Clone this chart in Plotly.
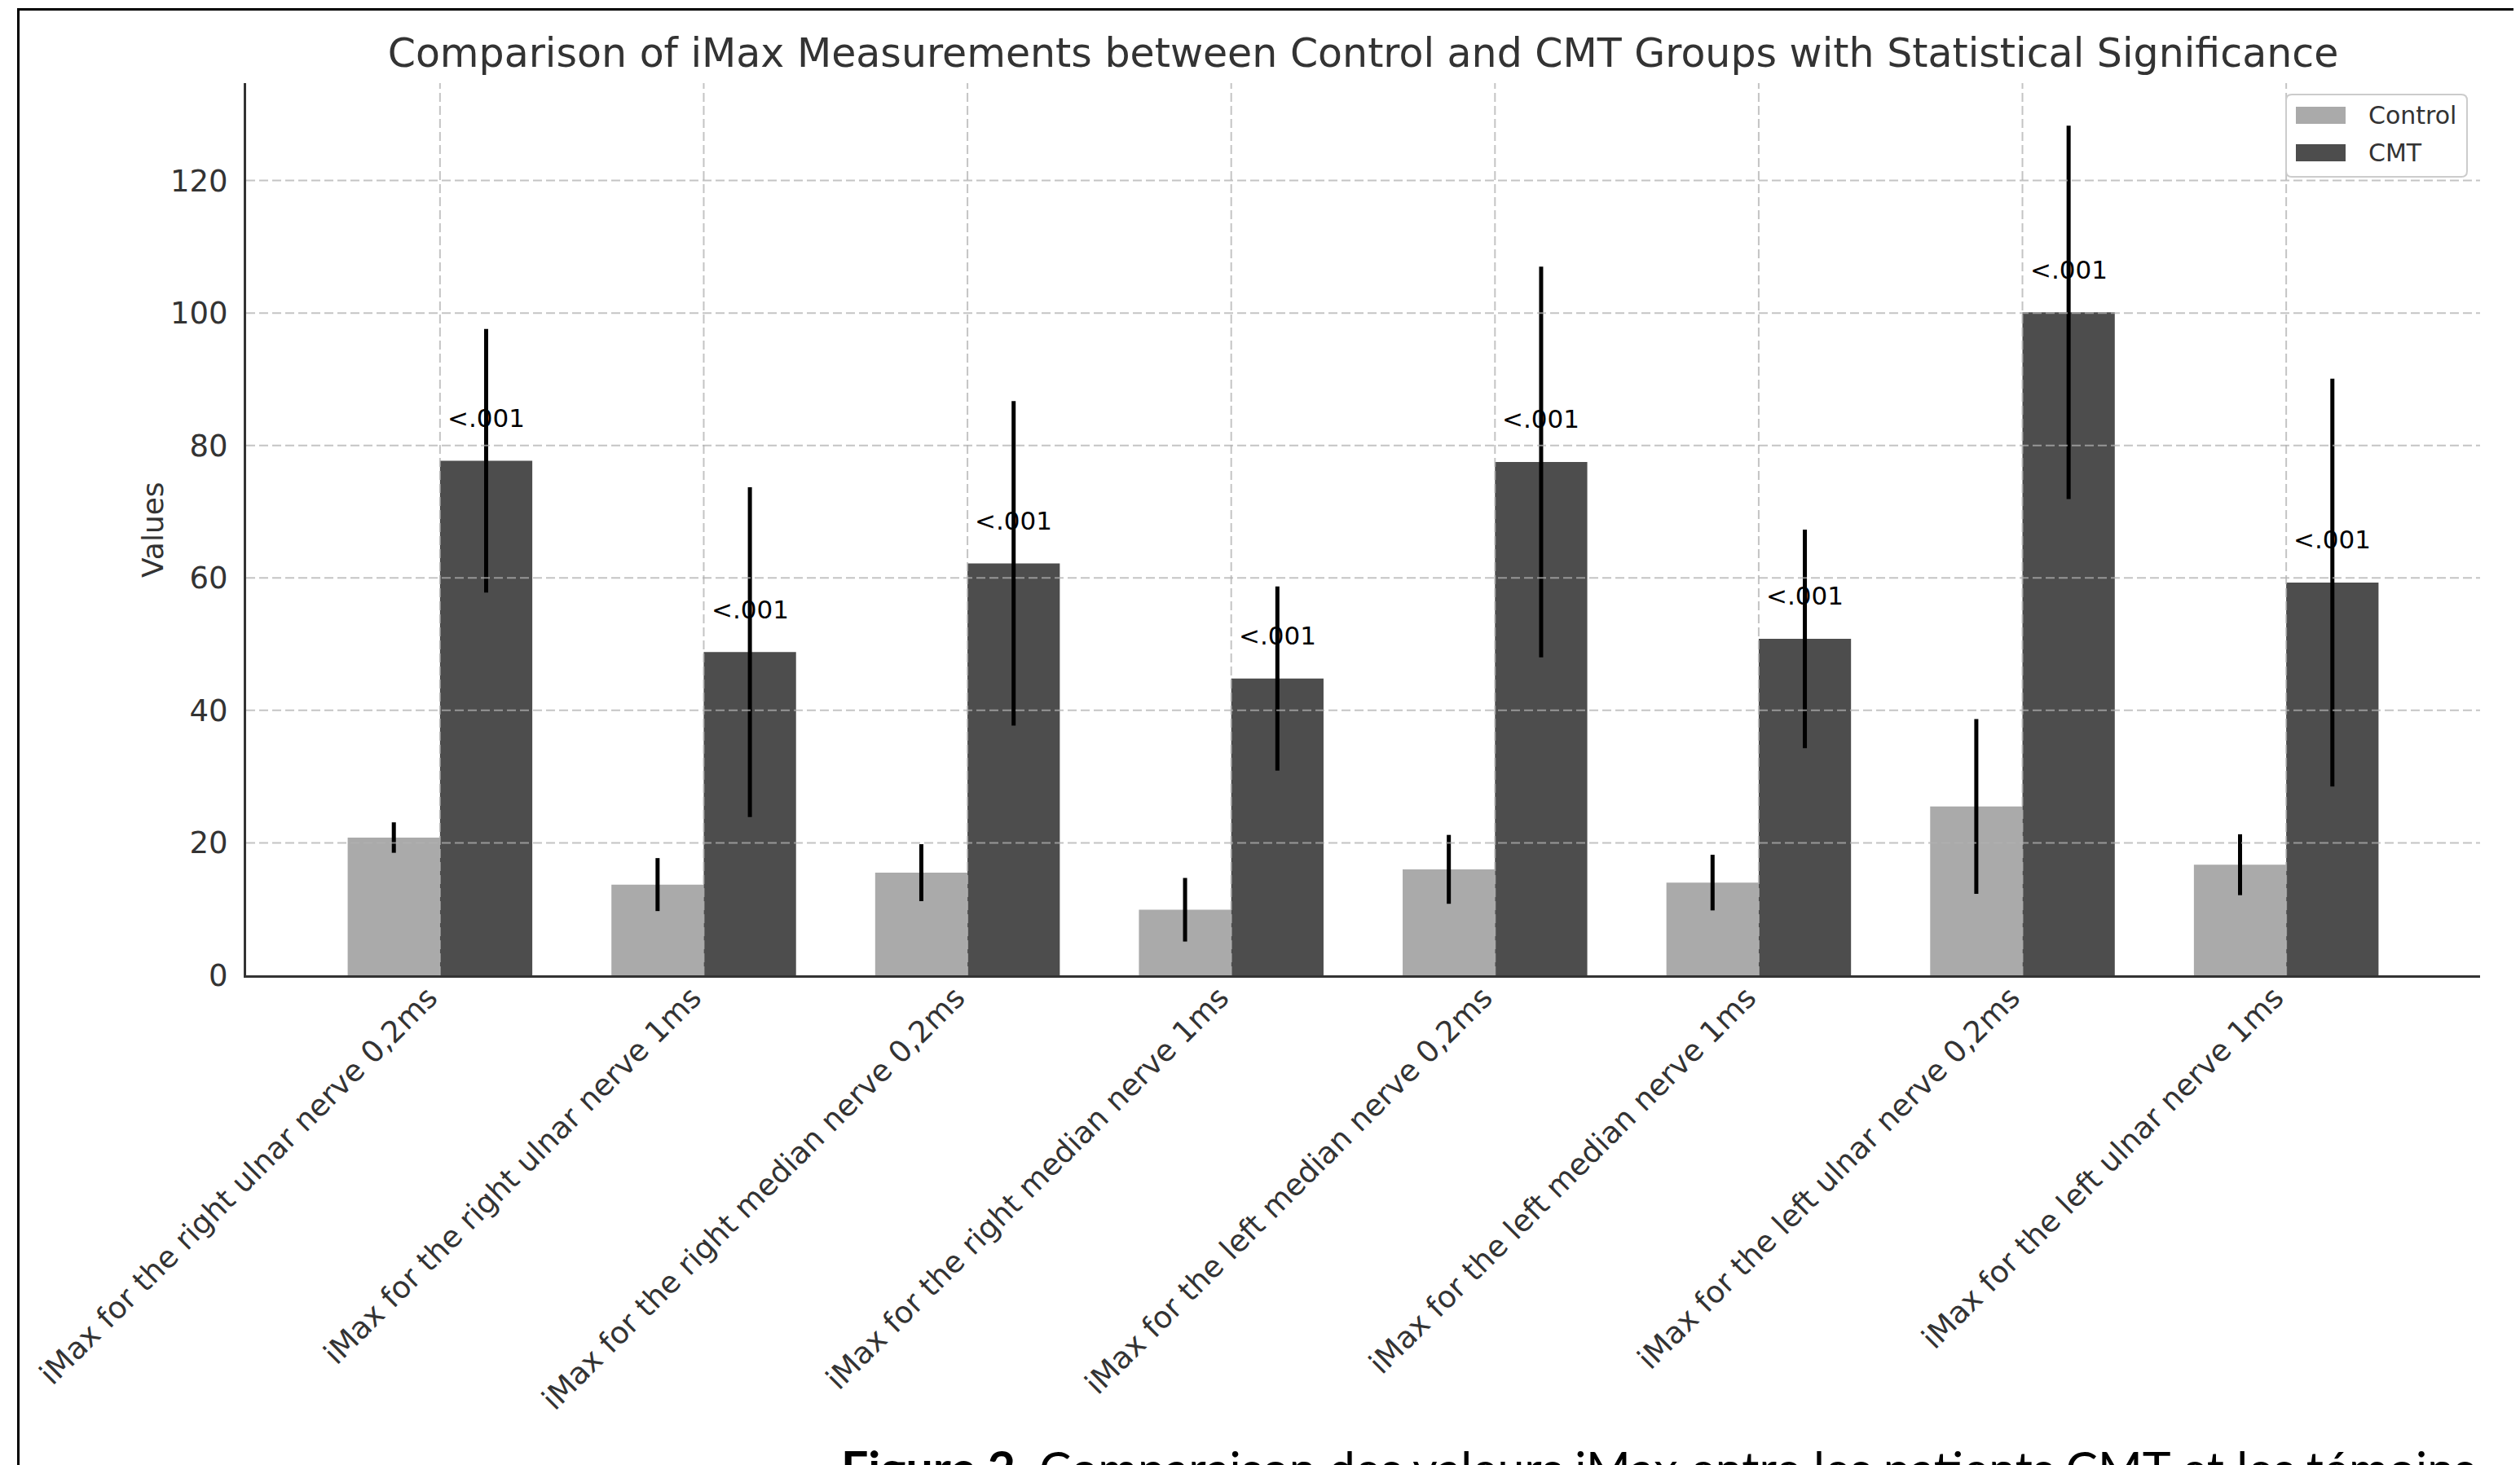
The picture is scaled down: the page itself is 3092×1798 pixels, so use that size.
import plotly.graph_objects as go
import numpy as np

# ---------------- data ----------------
categories = [
    "iMax for the right ulnar nerve 0,2ms",
    "iMax for the right ulnar nerve 1ms",
    "iMax for the right median nerve 0,2ms",
    "iMax for the right median nerve 1ms",
    "iMax for the left median nerve 0,2ms",
    "iMax for the left median nerve 1ms",
    "iMax for the left ulnar nerve 0,2ms",
    "iMax for the left ulnar nerve 1ms",
]
control_mean = [20.8, 13.7, 15.5, 9.9, 16.0, 14.0, 25.5, 16.7]
control_sd = [2.3, 4.0, 4.3, 4.8, 5.2, 4.2, 13.2, 4.6]
cmt_mean = [77.7, 48.8, 62.2, 44.8, 77.5, 50.8, 100.1, 59.3]
cmt_sd = [19.9, 24.9, 24.5, 13.9, 29.5, 16.5, 28.2, 30.8]
p_labels = ["<.001"] * 8
ytick_vals = [0, 20, 40, 60, 80, 100, 120]
series_names = ["Control", "CMT"]

# ---------------- styling ----------------
OFF = 8  # default body margin of the html page
W_FIG, H_FIG = 3092 - OFF, 1798 - OFF
L, R, T, B = 294, 49, 94, 601
PW = W_FIG - L - R
PH = H_FIG - T - B
C_CTRL = "#aaaaaa"
C_CMT = "#4d4d4d"
TXT = "#333333"
FONT = "DejaVu Sans"
GRID = "rgba(176,176,176,0.75)"
BAR_W = 0.35


def px_x(px):  # page pixel -> paper x
    return (px - OFF - L) / PW


def px_y(py):  # page pixel -> paper y
    return (H_FIG - B - (py - OFF)) / PH


x = np.arange(len(categories))
ymax = max(np.array(cmt_mean) + np.array(cmt_sd)) * 1.05
span = (len(categories) - 1) + 2 * BAR_W
xr = [-BAR_W - 0.05 * span, len(categories) - 1 + BAR_W + 0.05 * span]

fig = go.Figure()
fig.add_trace(go.Bar(
    x=x, y=control_mean, name=series_names[0], marker=dict(color=C_CTRL, line=dict(width=0)),
    error_y=dict(type="data", array=control_sd, color="black", thickness=5, width=0),
))
fig.add_trace(go.Bar(
    x=x, y=cmt_mean, name=series_names[1], marker=dict(color=C_CMT, line=dict(width=0)),
    error_y=dict(type="data", array=cmt_sd, color="black", thickness=5, width=0),
))

shapes = []
# gridlines drawn above bars (matplotlib default)
for yv in ytick_vals[1:]:
    shapes.append(dict(type="line", xref="paper", yref="y", x0=0, x1=1, y0=yv, y1=yv,
                       line=dict(color=GRID, width=2, dash="11px,5px"), layer="above"))
for xv in x:
    shapes.append(dict(type="line", xref="x", yref="paper", x0=xv, x1=xv, y0=0, y1=1,
                       line=dict(color=GRID, width=2, dash="11px,5px"), layer="above"))

# outer border of the figure screenshot
shapes.append(dict(type="rect", xref="paper", yref="paper",
                   x0=px_x(22.5), x1=px_x(3110), y0=px_y(11.5), y1=px_y(1830),
                   line=dict(color="black", width=3), fillcolor="rgba(0,0,0,0)", layer="above"))

# custom legend
lx0, lx1, ly0, ly1, rr = 2805, 3027, 116, 217, 7
path = (f"M {px_x(lx0+rr)},{px_y(ly0)} L {px_x(lx1-rr)},{px_y(ly0)} "
        f"Q {px_x(lx1)},{px_y(ly0)} {px_x(lx1)},{px_y(ly0+rr)} "
        f"L {px_x(lx1)},{px_y(ly1-rr)} Q {px_x(lx1)},{px_y(ly1)} {px_x(lx1-rr)},{px_y(ly1)} "
        f"L {px_x(lx0+rr)},{px_y(ly1)} Q {px_x(lx0)},{px_y(ly1)} {px_x(lx0)},{px_y(ly1-rr)} "
        f"L {px_x(lx0)},{px_y(ly0+rr)} Q {px_x(lx0)},{px_y(ly0)} {px_x(lx0+rr)},{px_y(ly0)} Z")
shapes.append(dict(type="path", xref="paper", yref="paper", path=path,
                   line=dict(color="#cccccc", width=2), fillcolor="rgba(255,255,255,0.85)", layer="above"))
for (sy0, sy1, col) in [(131, 152, C_CTRL), (177, 198, C_CMT)]:
    shapes.append(dict(type="rect", xref="paper", yref="paper",
                       x0=px_x(2817), x1=px_x(2878), y0=px_y(sy1), y1=px_y(sy0),
                       line=dict(width=0), fillcolor=col, layer="above"))

annotations = []
for name, cy in zip(series_names, [141.5, 187.5]):
    annotations.append(dict(text=name, xref="paper", yref="paper", x=px_x(2904), y=px_y(cy),
                            xanchor="left", yanchor="middle", showarrow=False,
                            font=dict(family=FONT, size=30, color=TXT)))

# p-value labels
for xi, m, lab in zip(x, cmt_mean, p_labels):
    annotations.append(dict(text=lab, x=xi + BAR_W / 2, y=m + 5, xref="x", yref="y",
                            xanchor="center", yanchor="bottom", yshift=-8, showarrow=False,
                            font=dict(family=FONT, size=31, color="black")))

# y-axis title
annotations.append(dict(text="Values", xref="paper", yref="paper", x=px_x(187), y=px_y(650),
                        xanchor="center", yanchor="middle", textangle=-90, showarrow=False,
                        font=dict(family=FONT, size=36, color=TXT)))

# caption (partially cut off at the bottom, as in the reference)
annotations.append(dict(text="<b>Figure 2.</b> Comparaison des valeurs iMax entre les patients CMT et les témoins",
                        xref="paper", yref="paper", x=px_x(1030), y=px_y(1764),
                        xanchor="left", yanchor="top", showarrow=False,
                        font=dict(family="Lato", size=59, color="black")))

fig.update_layout(
    width=W_FIG, height=H_FIG,
    margin=dict(l=L, r=R, t=T, b=B, autoexpand=False),
    paper_bgcolor="white", plot_bgcolor="white",
    barmode="group", bargap=1 - 2 * BAR_W, bargroupgap=0,
    showlegend=False,
    title=dict(text="Comparison of iMax Measurements between Control and CMT Groups with Statistical Significance",
               x=0.5, xref="paper", xanchor="center", y=1 - (65 - OFF) / H_FIG, yref="container", yanchor="middle",
               font=dict(family=FONT, size=49, color=TXT)),
    shapes=shapes, annotations=annotations,
)
fig.update_xaxes(range=xr, tickmode="array", tickvals=x, ticktext=categories, tickangle=-45,
                 showgrid=False, zeroline=False, showline=True, linecolor="#333333", linewidth=3,
                 ticks="", ticklabelstandoff=-12, ticklabelshift=-14,
                 tickfont=dict(family=FONT, size=37, color=TXT),
                 layer="above traces")
fig.update_yaxes(range=[0, ymax], tickmode="array", tickvals=ytick_vals,
                 showgrid=False, zeroline=False, showline=True, linecolor="#333333", linewidth=3,
                 ticks="", ticklabelstandoff=12, tickfont=dict(family=FONT, size=37, color=TXT),
                 layer="above traces")

fig.write_html("out.html")
